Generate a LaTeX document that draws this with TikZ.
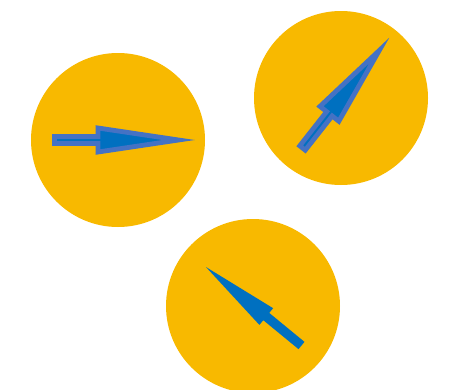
\documentclass[tikz,border=0pt]{standalone}
\definecolor{disc}{HTML}{F8B900}
\definecolor{arrfill}{HTML}{0070C0}
\definecolor{arrline}{HTML}{4472C4}
\tikzset{
  dial/.style={fill=disc, draw=none},
  outlined/.style={fill=arrfill, draw=arrline, line width=3.6pt, line join=miter, miter limit=20},
  plain/.style={fill=arrfill, draw=none}
}
\begin{document}
\begin{tikzpicture}[x=0.75pt,y=-0.75pt]
\useasboundingbox (0,0) rectangle (453,389);
\clip (0,0) rectangle (453,389);
\fill[dial] (118,140) circle (87);
\fill[dial] (341,98) circle (87);
\fill[dial] (253,306) circle (87);
% arrow 1
\begin{scope}[shift={(54.5,140)}]
\draw[outlined] (0,-3.5) -- (43.5,-3.5) -- (43.5,-12) -- (124,0) -- (43.5,12) -- (43.5,3.5) -- (0,3.5) -- cycle;
\end{scope}
% arrow 2
\begin{scope}[shift={(302.5,148)},rotate=51.8]
\draw[outlined] (0,-3.5) -- (43.5,-3.5) -- (43.5,-12) -- (124,0) -- (43.5,12) -- (43.5,3.5) -- (0,3.5) -- cycle;
\end{scope}
% arrow 3
\begin{scope}[shift={(301.5,345.5)},rotate=140.6]
\fill[plain] (0,-4.7) -- (45.6,-4.7) -- (45.6,-10.8) -- (123.6,0) -- (45.6,10.8) -- (45.6,4.7) -- (0,4.7) -- cycle;
\end{scope}
\end{tikzpicture}
\end{document}
